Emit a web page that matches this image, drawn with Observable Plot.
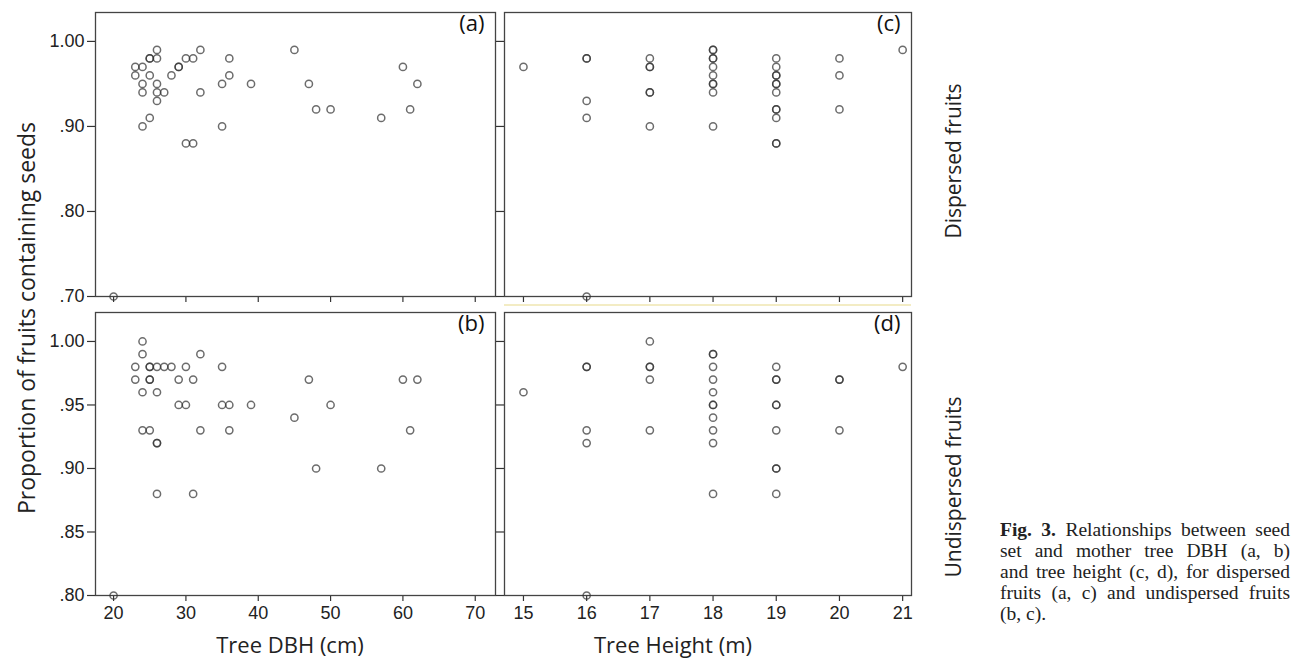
<!DOCTYPE html>
<html><head><meta charset="utf-8">
<script src="https://cdn.jsdelivr.net/npm/d3@7"></script>
<script src="https://cdn.jsdelivr.net/npm/@observablehq/plot@0.6"></script>
<style>
body{margin:0;background:#fff}
#root{position:relative;width:1307px;height:663px;background:#fff;overflow:hidden}
.abs{position:absolute}
.ttl{font-family:"Open Sans",Lato,sans-serif;font-size:22px;color:#222;white-space:nowrap}
.cap{position:absolute;left:1000px;width:290px;font-family:"Liberation Serif",serif;font-size:19.5px;color:#222;text-align:justify;text-align-last:justify;white-space:nowrap;line-height:21px}
</style></head>
<body><div id="root">
<div id="pa" class="abs" style="left:0;top:0"></div>
<div id="pb" class="abs" style="left:0;top:304px"></div>
<div id="pc" class="abs" style="left:500px;top:0"></div>
<div id="pd" class="abs" style="left:500px;top:304px"></div>
<div class="abs" style="left:504px;top:304px;width:407px;height:2px;background:#f3ecc4"></div>
<div class="abs ttl" style="left:290px;top:644px;transform:translate(-50%,-50%)">Tree DBH (cm)</div>
<div class="abs ttl" style="left:673px;top:644px;transform:translate(-50%,-50%)">Tree Height (m)</div>
<div class="abs ttl" style="left:26px;top:318px;font-size:23px;transform:translate(-50%,-50%) rotate(-90deg)">Proportion of fruits containing seeds</div>
<div class="abs ttl" style="left:953px;top:161px;font-size:21px;transform:translate(-50%,-50%) rotate(-90deg)">Dispersed fruits</div>
<div class="abs ttl" style="left:953px;top:487px;font-size:21px;transform:translate(-50%,-50%) rotate(-90deg)">Undispersed fruits</div>
<div class="cap" style="top:519px"><b>Fig. 3.</b> Relationships between seed</div>
<div class="cap" style="top:540px">set and mother tree DBH (a, b)</div>
<div class="cap" style="top:561px">and tree height (c, d), for dispersed</div>
<div class="cap" style="top:582px">fruits (a, c) and undispersed fruits</div>
<div class="cap" style="top:603px;text-align-last:left">(b, c).</div>
</div>
<script>
// Panel (a): dispersed fruits vs DBH
const aDbh  = [20,23,23,24,24,24,24,25,25,25,25,26,26,26,26,26,27,28,29,29,30,30,31,31,32,32,35,35,36,36,39,45,47,48,50,57,60,61,62];
const aProp = [0.70,0.97,0.96,0.97,0.95,0.94,0.90,0.98,0.98,0.96,0.91,0.99,0.98,0.95,0.94,0.93,0.94,0.96,0.97,0.97,0.98,0.88,0.98,0.88,0.99,0.94,0.95,0.90,0.98,0.96,0.95,0.99,0.95,0.92,0.92,0.91,0.97,0.92,0.95];
// Panel (b): undispersed fruits vs DBH
const bDbh  = [20,23,23,24,24,24,24,25,25,25,25,25,26,26,26,26,26,27,28,29,29,30,30,31,31,32,32,35,35,36,36,39,45,47,48,50,57,60,61,62];
const bProp = [0.80,0.98,0.97,1.00,0.99,0.96,0.93,0.98,0.98,0.97,0.97,0.93,0.98,0.96,0.92,0.92,0.88,0.98,0.98,0.97,0.95,0.98,0.95,0.97,0.88,0.99,0.93,0.98,0.95,0.95,0.93,0.95,0.94,0.97,0.90,0.95,0.90,0.97,0.93,0.97];
// Panel (c): dispersed fruits vs height
const cHeight = [15,16,16,16,16,16,17,17,17,17,17,17,18,18,18,18,18,18,18,18,18,18,19,19,19,19,19,19,19,19,19,19,19,19,20,20,20,21];
const cProp   = [0.97,0.98,0.98,0.93,0.91,0.70,0.98,0.97,0.97,0.94,0.94,0.90,0.99,0.99,0.98,0.98,0.97,0.96,0.95,0.95,0.94,0.90,0.98,0.97,0.96,0.96,0.95,0.95,0.94,0.92,0.92,0.91,0.88,0.88,0.98,0.96,0.92,0.99];
// Panel (d): undispersed fruits vs height
const dHeight = [15,16,16,16,16,16,17,17,17,17,17,18,18,18,18,18,18,18,18,18,18,18,19,19,19,19,19,19,19,19,19,20,20,20,21];
const dProp   = [0.96,0.98,0.98,0.93,0.92,0.80,1.00,0.98,0.98,0.97,0.93,0.99,0.99,0.98,0.97,0.96,0.95,0.95,0.94,0.93,0.92,0.88,0.98,0.97,0.97,0.95,0.95,0.93,0.90,0.90,0.88,0.97,0.97,0.93,0.98];

const dbhTicks = [20,30,40,50,60,70];
const heightTicks = [15,16,17,18,19,20,21];
const topYTicks = [0.70,0.80,0.90,1.00];
const botYTicks = [0.80,0.85,0.90,0.95,1.00];
const panelLabels = ["(a)","(b)","(c)","(d)"];

const fmtY = d => d >= 1 ? d.toFixed(2) : d.toFixed(2).replace(/^0/, "");
const blank = () => "";

function panel(o) {
  const data = o.x.map((v, i) => ({x: v, y: o.y[i]}));
  return Plot.plot({
    width: o.width, height: o.height,
    marginLeft: o.mL, marginRight: o.mR, marginTop: o.mT, marginBottom: o.mB,
    x: {domain: o.xDomain},
    y: {domain: o.yDomain},
    style: {fontFamily: "'Liberation Sans', Arial, sans-serif", fontSize: "18px", color: "#222", background: "transparent", overflow: "visible"},
    marks: [
      Plot.axisY(o.yTicks, {tickSize: 8, tickPadding: 3, tickFormat: o.yLabels ? fmtY : blank, stroke: "#333", strokeWidth: 1.2, label: null}),
      Plot.axisX(o.xTicks, {tickSize: 6, tickPadding: 5, tickFormat: o.xLabels ? (d => String(d)) : blank, stroke: "#333", strokeWidth: 1.2, label: null}),
      Plot.frame({stroke: "#444", strokeWidth: 1.3}),
      Plot.dot(data, {x: "x", y: "y", r: 3.6, stroke: "#333", strokeOpacity: 0.72, strokeWidth: 1.5, fill: "none"}),
      Plot.text([o.label], {frameAnchor: "top-right", text: d => d, dx: -11, dy: 3, lineAnchor: "top", fontSize: 22, fontFamily: "'Open Sans', Lato, sans-serif", fill: "#111"})
    ]
  });
}

document.getElementById("pa").append(panel({
  x: aDbh, y: aProp, xDomain: [17.5, 72.8], yDomain: [0.70, 1.034],
  xTicks: dbhTicks, yTicks: topYTicks, width: 500, height: 304,
  mL: 95, mR: 5, mT: 12, mB: 8, yLabels: true, xLabels: false, label: panelLabels[0]
}));
document.getElementById("pb").append(panel({
  x: bDbh, y: bProp, xDomain: [17.5, 72.8], yDomain: [0.80, 1.0228],
  xTicks: dbhTicks, yTicks: botYTicks, width: 500, height: 359,
  mL: 95, mR: 5, mT: 8, mB: 68, yLabels: true, xLabels: true, label: panelLabels[1]
}));
document.getElementById("pc").append(panel({
  x: cHeight, y: cProp, xDomain: [14.70, 21.14], yDomain: [0.70, 1.034],
  xTicks: heightTicks, yTicks: topYTicks, width: 420, height: 304,
  mL: 4, mR: 9, mT: 12, mB: 8, yLabels: false, xLabels: false, label: panelLabels[2]
}));
document.getElementById("pd").append(panel({
  x: dHeight, y: dProp, xDomain: [14.70, 21.14], yDomain: [0.80, 1.0228],
  xTicks: heightTicks, yTicks: botYTicks, width: 420, height: 359,
  mL: 4, mR: 9, mT: 8, mB: 68, yLabels: false, xLabels: true, label: panelLabels[3]
}));
</script>
</body></html>
